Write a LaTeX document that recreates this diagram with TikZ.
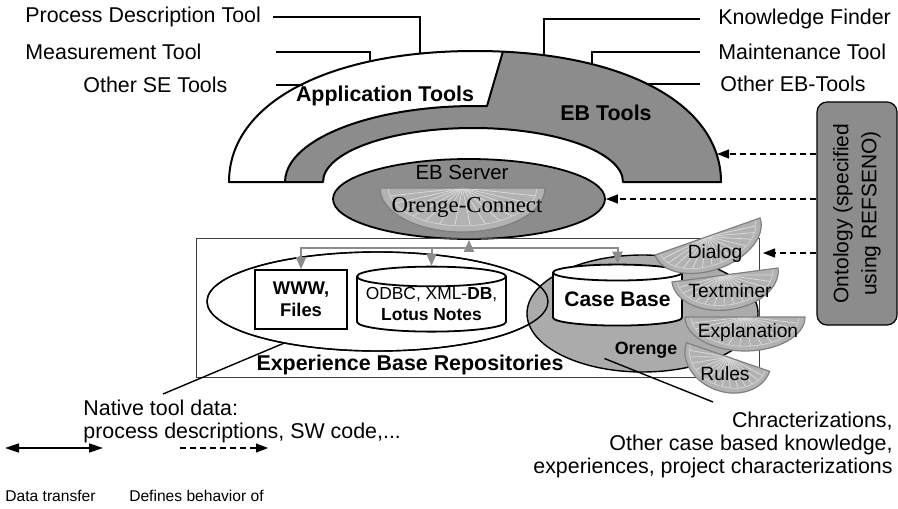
\documentclass[tikz,border=0pt]{standalone}
\usepackage{fontspec}
\setmainfont{Liberation Sans}
\newfontfamily\serifface{Liberation Serif}
\usetikzlibrary{shapes.geometric, arrows.meta, positioning, calc}

% one orange slice: centre x, centre y, rotation, x radius, y radius
\newcommand{\orangeslice}[5]{%
  \begin{scope}[shift={(#1,#2)}, rotate=#3]
    \fill[slice fill] (-#4,0) arc[start angle=180, end angle=360, x radius=#4, y radius=#5] -- cycle;
    \foreach \ang in {192,204,...,348}
      \draw[slice rib] (0,0) -- (\ang:{0.9*#4} and {0.86*#5});
    \draw[slice rind] ({-0.9*#4},0) arc[start angle=180, end angle=360, x radius={0.9*#4}, y radius={0.86*#5}];
    \draw[slice edge] (-#4,0) arc[start angle=180, end angle=360, x radius=#4, y radius=#5] -- cycle;
  \end{scope}}

\begin{document}
\begin{tikzpicture}[
    x=0.5pt, y=0.5pt,
    font=\fontsize{10.7}{12.8}\selectfont,
    label/.style={inner sep=0pt},
    title/.style={inner sep=0pt, font=\fontsize{10.7}{12.8}\selectfont\bfseries},
    legend/.style={inner sep=0pt, font=\fontsize{7.8}{9}\selectfont},
    pointer/.style={line width=0.7pt},
    arch gray/.style={fill=black!45},
    arch line/.style={line width=1pt, line join=round},
    server/.style={ellipse, draw, line width=0.9pt, fill=black!45, minimum width=136pt, minimum height=40pt, inner sep=0pt},
    pool/.style={ellipse, draw, line width=0.7pt, inner sep=0pt},
    store/.style={cylinder, shape border rotate=90, draw, line width=0.9pt, fill=white, aspect=0.15, align=center, inner sep=0pt},
    filebox/.style={rectangle, draw, line width=0.8pt, fill=white, align=center, inner sep=0pt, minimum width=46pt, minimum height=29.5pt, font=\fontsize{9.2}{11}\selectfont\bfseries},
    slice fill/.style={fill=black!30},
    slice rib/.style={draw=white!85!black, line width=0.4pt},
    slice rind/.style={draw=black!18, line width=0.4pt},
    slice edge/.style={draw=black!50, line width=0.6pt},
    slicetext/.style={inner sep=0pt, font=\fontsize{9.6}{11}\selectfont},
    onto/.style={draw, fill=black!45, rounded corners=5pt, line width=0.6pt, minimum width=111.5pt, minimum height=40pt, align=center, inner sep=0pt, font=\fontsize{10.5}{14}\selectfont},
    gray link/.style={-{Triangle[length=6pt, width=5pt]}, draw=black!45, line width=1pt},
    defines/.style={-{Triangle[length=6pt, width=4.5pt]}, dash pattern=on 3pt off 2pt, line width=0.6pt},
    transfer/.style={{Triangle[length=7pt, width=4.5pt]}-{Triangle[length=7pt, width=4.5pt]}, line width=0.8pt}
  ]
  \useasboundingbox (0,0) rectangle (898,-508);

  % Tool arches
  \fill[arch gray] (229,-182) .. controls (229,-103.4) and (327.4,-51) .. (475,-51)
    .. controls (622.6,-51) and (721,-103.4) .. (721,-182) -- (623,-182)
    arc[start angle=0, end angle=180, x radius=150, y radius=54] -- cycle;
  \begin{scope}
    \clip (200,-200) -- (200,-30) -- (509.2,-30) -- (459.7,-200) -- cycle;
    \fill[white] (229,-182) .. controls (229,-103.4) and (327.4,-51) .. (475,-51)
      .. controls (622.6,-51) and (721,-103.4) .. (721,-182) -- (665,-182)
      arc[start angle=0, end angle=180, x radius=190, y radius=76] -- cycle;
  \end{scope}
  \draw[arch line] (229,-182) .. controls (229,-103.4) and (327.4,-51) .. (475,-51)
    .. controls (622.6,-51) and (721,-103.4) .. (721,-182) -- (623,-182)
    arc[start angle=0, end angle=180, x radius=150, y radius=54] -- cycle;
  \draw[arch line] (285,-182) arc[start angle=180, end angle=86.4, x radius=190, y radius=76] -- (503,-51.3);
  \node[title] (apptools) at (385,-96) {Application Tools};
  \node[title] (ebtools) at (606,-113) {EB Tools};

  % Tool labels
  \node[label, anchor=west] (pdt) at (25,-17) {Process Description Tool};
  \node[label, anchor=west] (mt) at (25,-52) {Measurement Tool};
  \node[label, anchor=west] (ose) at (83,-85) {Other SE Tools};
  \node[label, anchor=west] (kf) at (718,-19) {Knowledge Finder};
  \node[label, anchor=west] (maint) at (718,-52) {Maintenance Tool};
  \node[label, anchor=west] (oeb) at (720,-84) {Other EB-Tools};
  \coordinate (pdt-end) at (420,-53);
  \coordinate (mt-end) at (370,-61.5);
  \coordinate (ose-end) at (303,-84);
  \coordinate (kf-end) at (544,-54);
  \coordinate (maint-end) at (592,-63);
  \coordinate (oeb-end) at (646,-84);
  \draw[pointer] ([xshift=6pt]pdt.east) -| (pdt-end);
  \draw[pointer] ([xshift=37pt]mt.east) -| (mt-end);
  \draw[pointer] ([xshift=24pt]ose.east) -- (ose.east -| ose-end);
  \draw[pointer] ([xshift=-9pt]kf.west) -| (kf-end);
  \draw[pointer] ([xshift=-9pt]maint.west) -| (maint-end);
  \draw[pointer] ([xshift=-10pt]oeb.west) -- (oeb.west -| oeb-end);

  % EB Server
  \node[server] (server) at (469,-199) {};
  \orangeslice{462.5}{-188}{0}{82.5}{44}
  \node[label, font=\fontsize{10.2}{12}\selectfont] (ebs) at (462,-172) {EB Server};
  \node[label, font=\fontsize{11.4}{13}\selectfont\serifface] (oconnect) at (467,-207) {Orenge-Connect};

  % Repositories
  \draw[line width=0.5pt, draw=black!75] (196,-238) rectangle (759,-377);
  \node[pool, fill=white, minimum width=170.5pt, minimum height=49.5pt] (toolpool) at (377.5,-301.5) {};
  \node[pool, fill=black!33, minimum width=115.5pt, minimum height=58.5pt] (orenge) at (642.5,-313.5) {};
  \draw[line width=0.7pt] (toolpool.center) ellipse [x radius=170.5, y radius=49.5];
  \node[filebox] (www) at (301,-299.5) {WWW,\\Files};
  \node[store, minimum width=74.5pt, minimum height=32.5pt, font=\fontsize{8.7}{10.5}\selectfont] (odbc) at (431.5,-304.5) {ODBC, XML-\textbf{DB},\\\textbf{Lotus Notes}};
  \node[store, minimum width=64.5pt, minimum height=30.5pt, font=\fontsize{10.5}{12}\selectfont\bfseries] (casebase) at (617.5,-299.5) {Case Base};
  \node[label, font=\fontsize{8.9}{10}\selectfont\bfseries] (orengetxt) at (646,-350) {Orenge};
  \node[title] (repos) at (410,-365) {Experience Base Repositories};

  % Orenge slices
  \orangeslice{707.5}{-236.5}{19.4}{55.7}{34}
  \node[slicetext] (dialog) at (715,-254) {Dialog};
  \orangeslice{725}{-275}{7.5}{53.5}{35}
  \node[slicetext] (textminer) at (730,-291) {Textminer};
  \orangeslice{745}{-317}{0}{60}{34}
  \node[slicetext] (explanation) at (748,-333) {Explanation};
  \orangeslice{728}{-357}{-19}{44}{35}
  \node[slicetext] (rules) at (725,-374) {Rules};

  % Data flow from the server
  \coordinate (hub) at ([yshift=-4pt]server.south);
  \draw[gray link] (hub) -- (server.south);
  \draw[gray link] (hub) -| (www.north);
  \draw[gray link] (hub) -| (odbc.north);
  \draw[gray link] (hub) -| (casebase.north);

  % Ontology
  \node[onto, rotate=90] (onto) at (857,-213.5) {Ontology (specified\\using REFSENO)};
  \coordinate (ebt-tip) at (717,-154);
  \coordinate (dialog-tip) at (763,-253);
  \draw[defines] (onto.north |- ebt-tip) -- (ebt-tip);
  \draw[defines] (onto.north |- server.east) -- (server.east);
  \draw[defines] (onto.north |- dialog-tip) -- (dialog-tip);

  % Notes
  \node[label, align=left, anchor=north west, font=\fontsize{10.7}{11.5}\selectfont] (nativetxt) at (83,-400) {Native tool data:\\process descriptions, SW code,...};
  \node[label, align=right, anchor=north east, font=\fontsize{10.7}{11.5}\selectfont] (chars) at (893,-412) {Chracterizations,\\Other case based knowledge,\\experiences, project characterizations};
  \draw[pointer] (toolpool.204) -- ([xshift=40pt,yshift=3pt]nativetxt.north west);
  \draw[pointer] ([xshift=-5pt]orengetxt.south west) -- ([yshift=5pt]chars.north);

  % Legend
  \node[legend] (dt) at (50.5,-496) {Data transfer};
  \node[legend] (db) at (196.5,-496) {Defines behavior of};
  \coordinate (dt-a) at (5,-448);
  \coordinate (dt-b) at (103,-448);
  \coordinate (db-a) at (180,-448);
  \coordinate (db-b) at (268,-448);
  \draw[transfer] (dt-a) -- (dt-b);
  \draw[defines] (db-a) -- (db-b);
\end{tikzpicture}
\end{document}
